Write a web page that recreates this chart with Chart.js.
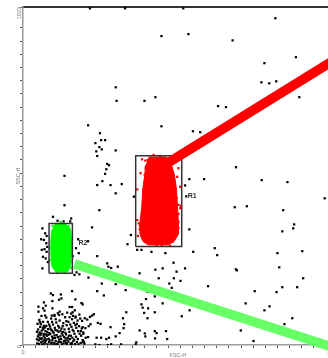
<!DOCTYPE html>
<html>
<head>
<meta charset="utf-8">
<script src="https://cdn.jsdelivr.net/npm/chart.js@4.4.0/dist/chart.umd.min.js"></script>
<style>
  html, body { margin: 0; padding: 0; background: #fff; overflow: hidden; }
  canvas { display: block; }
</style>
</head>
<body>
<canvas id="plot" width="340" height="358"></canvas>
<script>
// channel range and ticks
const channelMax = 1023;
const tickStep = 40;
const labelledTicks = [0, 1023];

// gates
const gateNames = ['R1', 'R2'];
const gateXMin = [372, 86];
const gateXMax = [524, 163];
const gateYMin = [298, 217];
const gateYMax = [573, 368];
const gateLabelX = [544, 183];
const gateLabelY = [451, 309];

// link lines leaving each gate
const r1LinkX = [441, 1023];
const r1LinkY = [530, 860];
const r2LinkX = [170, 1023];
const r2LinkY = [245, -7];

// ungated events [FSC, SSC]
const events = [
  [221,1019],[337,1019],[529,1019],[457,935],[546,941],[306,780],[309,739],[401,739],[437,750],[215,665],
  [457,662],[561,647],[254,641],[258,620],[271,620],[239,611],[252,599],[260,592],[242,586],[245,572],[306,589],
  [278,548],[284,544],[275,532],[271,518],[262,496],[245,484],[289,484],[326,487],[306,459],[137,512],[137,423],
  [252,408],[228,356],[356,333],[345,305],[245,269],[184,278],[278,247],[282,237],[291,233],[313,237],[215,314],
  [182,320],[175,293],[164,269],[64,353],[73,338],[60,320],[69,318],[77,308],[62,288],[71,290],[66,267],[75,262],
  [64,232],[114,376],[134,374],[156,374],[78,330],[80,297],[78,282],[82,251],[99,388],[159,383],[170,212],
  [644,723],[670,720],[585,644],[703,538],[549,502],[598,502],[535,483],[788,499],[873,493],[996,444],[539,450],
  [699,417],[739,420],[859,408],[895,365],[892,353],[856,344],[549,350],[633,293],[641,272],[840,278],[922,284],
  [535,232],[703,229],[706,226],[846,235],[925,202],[833,989],[692,922],[901,871],[797,853],[787,795],[813,792],
  [836,798],[912,750],[765,163],[837,160],[856,175],[905,175],[735,126],[797,105],[814,117],[889,81],[863,63],
  [719,44],[761,12],[177,220],[186,214],[216,204],[385,217],[437,228],[461,232],[507,222],[260,186],[306,184],
  [448,202],[498,202],[483,186],[491,173],[520,194],[611,178],[162,163],[245,163],[267,150],[339,166],[92,156],
  [99,151],[125,153],[119,137],[127,141],[97,133],[173,138],[411,161],[435,147],[406,139],[461,126],[69,129],
  [51,116],[66,111],[75,119],[71,104],[154,115],[162,115],[193,127],[197,123],[97,111],[391,123],[395,113],
  [413,111],[341,99],[550,105],[51,101],[121,101],[119,91],[130,93],[164,99],[73,89],[77,83],[95,89],[104,91],
  [400,97],[435,99],[524,87],[411,81],[234,93],[228,89],[221,85],[204,81],[212,77],[330,81],[173,83],[195,73],
  [56,69],[69,58],[247,67],[256,64],[289,54],[334,63],[332,51],[217,57],[223,63],[206,51],[385,44],[319,36],
  [435,42],[441,36],[472,42],[402,35],[404,26],[476,18],[306,26],[284,22],[275,18],[258,22],[243,22],[215,24],
  [199,34],[191,42],[374,8],[372,2],[324,2],[291,2],[280,0],[252,0],[239,2],[162,4],[197,8],[201,10],
  [366,449],[377,288],[391,288],[424,282],[497,249],[470,278],[562,282],[436,20],[197,54]
];

// dense debris in the low corner
const debris = [
  [47,5],[52,14],[49,26],[55,38],[60,8],[63,20],[58,31],[50,47],[57,55],[62,44],[48,64],[54,76],[61,88],[64,2],[46,17],
  [70,4],[75,12],[81,2],[86,9],[92,4],[97,15],[103,6],[108,12],[114,3],[119,17],[125,8],[129,2],[72,22],[79,28],
  [85,19],[90,33],[96,25],[101,37],[106,21],[111,30],[117,40],[123,26],[128,35],[74,42],[83,48],[89,56],[94,45],
  [99,62],[105,52],[110,68],[116,58],[121,74],[127,50],[82,70],[93,80],[104,88],[115,96],[87,36],[113,44],[69,33],
  [77,58],[66,70],[134,5],[139,13],[145,3],[150,10],[155,18],[160,6],[166,12],[172,3],[178,9],[136,24],[142,32],
  [148,22],[153,40],[158,28],[164,46],[170,34],[176,52],[182,42],[137,47],[144,60],[150,70],[156,62],[162,78],
  [168,67],[174,86],[180,74],[186,92],[139,84],[146,98],[133,66],[159,95],[171,105],[190,6],[197,15],[203,4],
  [192,28],[199,38],[207,22],
  [53,3],[58,18],[65,11],[68,27],[73,7],[78,17],[84,31],[88,14],[95,7],[99,21],[104,29],[110,3],[115,24],[121,10],
  [126,18],[131,29],[135,12],[141,20],[147,14],[152,28],[157,3],[163,22],[169,16],[175,25],[181,18],[187,34],
  [55,22],[61,35],[67,48],[73,53],[80,39],[91,49],[98,41],[107,45],[119,53],[124,43],[132,39],[140,37],[151,49],
  [160,55],[167,42],[173,60],[185,57],[194,50],[52,32],[59,63],[66,52],[76,32],[86,62],[96,70],[108,78],[131,57],
  [143,72],[154,84],[165,88],[178,64],[189,80],[46,40],[71,15],[101,0],[117,9],[142,6],[183,2]
];

// R1 population: dense core outline and loose events
const r1Core = [
  [415,569],[474,569],[490,545],[500,515],[507,469],[510,418],[513,369],[513,336],[500,315],[480,303],
  [415,303],[395,315],[386,336],[386,369],[392,418],[395,469],[402,515],[405,545]
];
const r1Events = [
  [393,562],[404,558],[388,520],[402,515],[377,471],[399,429],[395,409],[377,378],[382,368],[385,350],[393,356],
  [513,535],[509,509],[519,479],[502,459],[513,424],[502,388],[513,373],[500,353],[453,572],[437,323],[448,318],
  [464,320],[409,308],[486,300],[426,328],[480,328],[415,338],[491,338],[519,414],[521,421],[491,499],[497,484],
  [417,540],[413,489],[483,525],[475,547],
  [405,536],[487,530],[402,493],[500,490],[399,448],[507,445],[395,394],[513,397],[386,360],[513,354],[402,312],
  [493,312],[441,300],[458,303],[431,575],[474,560],[412,560],[379,330]
];

// R2 population
const r2Core = [
  [105,366],[141,366],[157,351],[160,318],[160,272],[157,239],[147,221],[108,221],[95,239],[92,272],[92,318],[95,348]
];
const r2Events = [[98,360],[150,360],[160,251],[160,233],[88,294],[88,257],[124,372],[137,218],[114,218]];

Chart.defaults.font.family = '"Liberation Sans", Arial, sans-serif';

const pts = arr => arr.map(([x, y]) => ({x, y}));
const zip = (xs, ys) => xs.map((x, i) => ({x, y: ys[i]}));
const gateBox = i => pts([
  [gateXMin[i], gateYMin[i]], [gateXMax[i], gateYMin[i]], [gateXMax[i], gateYMax[i]],
  [gateXMin[i], gateYMax[i]], [gateXMin[i], gateYMin[i]]
]);

const link = (data, color) => ({
  type: 'line', data, borderColor: color, borderWidth: 9.5, borderCapStyle: 'butt',
  pointRadius: 0, fill: false, clip: false
});
const box = data => ({
  type: 'line', data, borderColor: '#333', borderWidth: 1.5, pointRadius: 0, fill: false
});
const core = (data, color) => ({
  type: 'line', data, borderColor: color, backgroundColor: color, borderWidth: 1,
  pointRadius: 0, fill: 'shape'
});
const dots = (data, color) => ({
  data, backgroundColor: color, pointStyle: 'rect', pointRadius: 1.6, borderWidth: 0
});

const gateLabels = {
  id: 'gateLabels',
  afterDatasetsDraw(chart) {
    const {ctx, scales: {x, y}} = chart;
    ctx.save();
    ctx.font = 'bold 7px "Liberation Sans", Arial, sans-serif';
    ctx.fillStyle = '#333';
    ctx.textBaseline = 'middle';
    gateNames.forEach((name, i) => {
      ctx.fillText(name, x.getPixelForValue(gateLabelX[i]), y.getPixelForValue(gateLabelY[i]));
    });
    ctx.restore();
  }
};

const tickCallback = v => labelledTicks.includes(v) ? String(v) : '';

new Chart(document.getElementById('plot'), {
  type: 'scatter',
  data: {
    datasets: [
      link(zip(r1LinkX, r1LinkY), '#ff0000'),
      link(zip(r2LinkX, r2LinkY), '#66ff66'),
      box(gateBox(0)),
      box(gateBox(1)),
      dots(pts(r1Events), '#ff0000'),
      core(pts(r1Core), '#ff0000'),
      dots(pts(r2Events), '#00ff00'),
      core(pts(r2Core), '#00ff00'),
      dots(pts(events.concat(debris)), '#000000')
    ]
  },
  plugins: [gateLabels],
  options: {
    responsive: false,
    animation: false,
    devicePixelRatio: 1,
    events: [],
    layout: { padding: { top: 7, right: 4, left: 0, bottom: 0 } },
    plugins: { legend: { display: false }, tooltip: { enabled: false } },
    scales: {
      x: {
        type: 'linear', position: 'bottom', min: 0, max: channelMax,
        afterFit: s => { s.height = 13; },
        border: { color: '#999', width: 1.5 },
        grid: { drawOnChartArea: false, drawTicks: true, tickLength: 3, color: '#555' },
        ticks: { stepSize: tickStep, autoSkip: false, maxRotation: 0, padding: 1, color: '#777',
                 font: { size: 5.5 }, callback: tickCallback },
        title: { display: true, text: 'FSC-H', color: '#777', font: { size: 5.5, lineHeight: 0.8 }, padding: 0 }
      },
      xTop: {
        type: 'linear', position: 'top', min: 0, max: channelMax,
        afterFit: s => { s.height = 0; },
        border: { color: '#333', width: 2 },
        grid: { display: false },
        ticks: { display: false }
      },
      y: {
        type: 'linear', position: 'left', min: 0, max: channelMax,
        afterFit: s => { s.width = 23; },
        border: { color: '#999', width: 1.5 },
        grid: { drawOnChartArea: false, drawTicks: true, tickLength: 3, color: '#555' },
        ticks: { stepSize: tickStep, autoSkip: false, minRotation: 90, maxRotation: 90, padding: 1,
                 color: '#777', font: { size: 5.5 }, callback: tickCallback },
        title: { display: true, text: 'SSC-H', color: '#777', font: { size: 5.5, lineHeight: 1 },
                 padding: { top: 16, bottom: 0 } }
      }
    }
  }
});
</script>
</body>
</html>
